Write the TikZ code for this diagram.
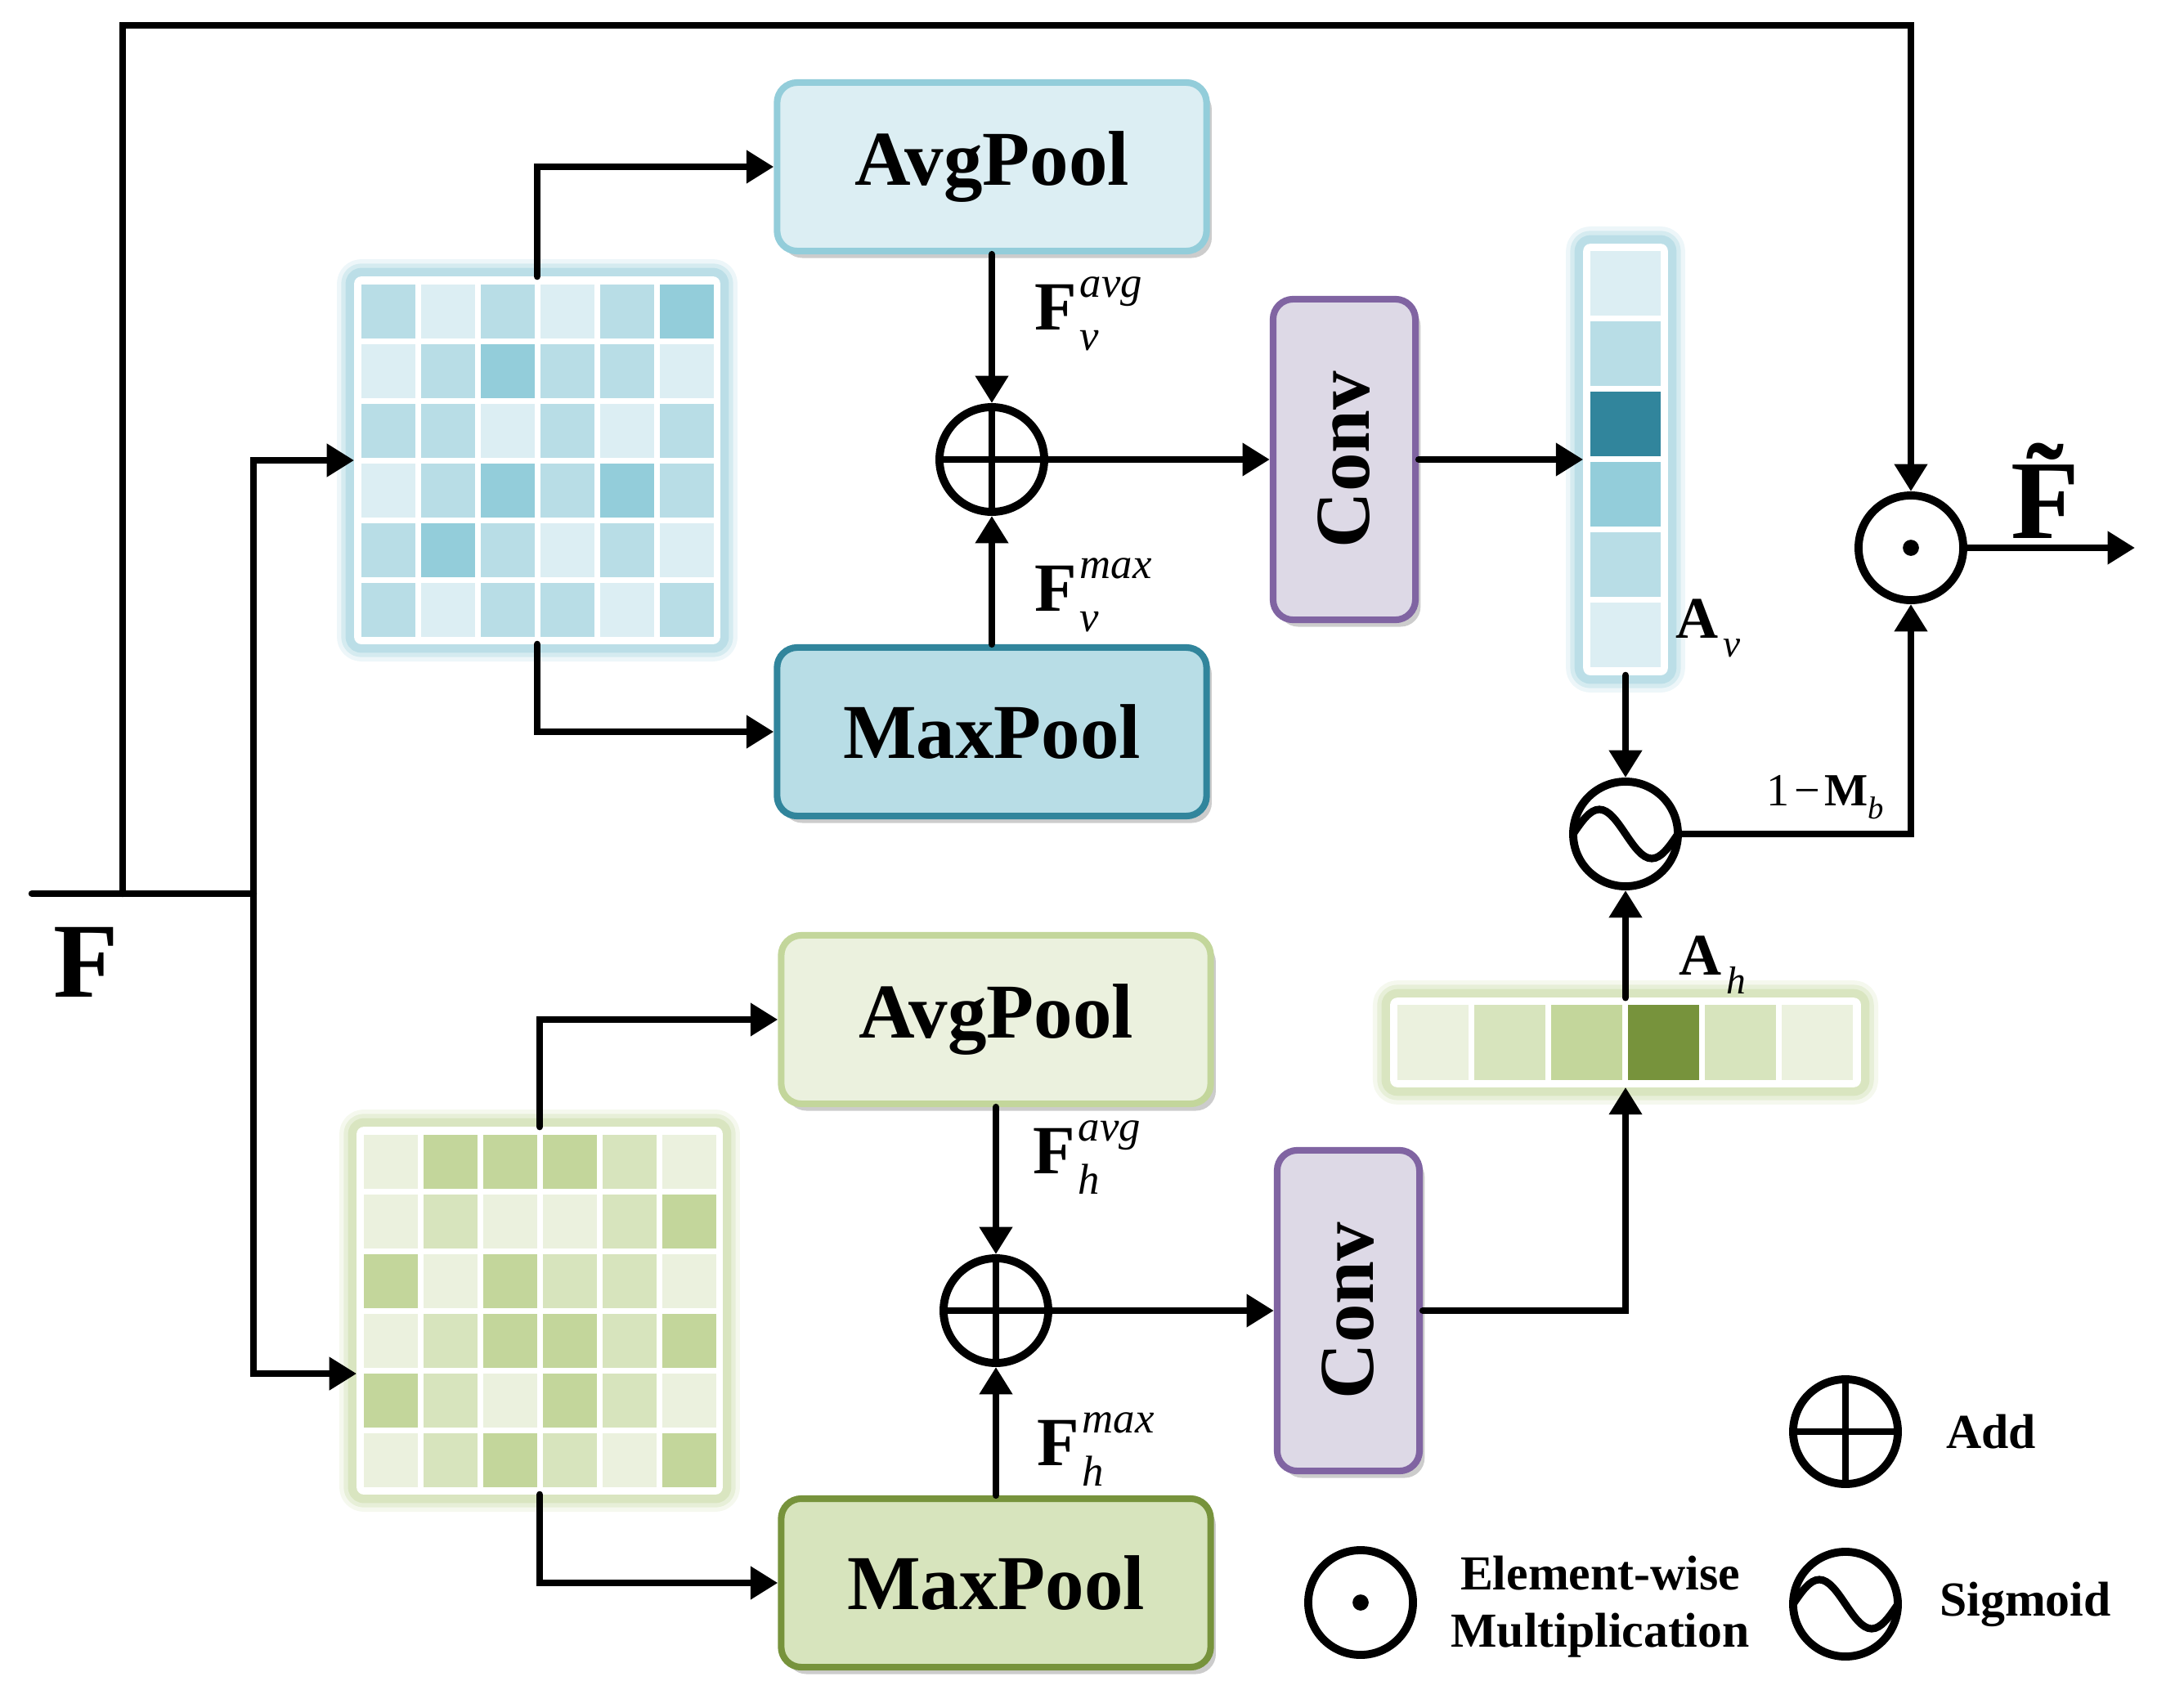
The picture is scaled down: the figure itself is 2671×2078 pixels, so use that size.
\documentclass[tikz,border=0pt]{standalone}
\usepackage{fontspec}
\setmainfont{Liberation Serif}
\usepackage{graphicx}
\usepackage{tikz}
\usetikzlibrary{arrows.meta,positioning,shadows,calc}
\definecolor{bL}{HTML}{DCEEF3}
\definecolor{bM}{HTML}{B8DDE6}
\definecolor{bD}{HTML}{93CDDA}
\definecolor{bT}{HTML}{31859C}
\definecolor{gL}{HTML}{EBF1DE}
\definecolor{gM}{HTML}{D7E4BD}
\definecolor{gD}{HTML}{C3D69B}
\definecolor{gT}{HTML}{77933C}
\definecolor{convfill}{HTML}{DDD9E6}
\definecolor{convline}{HTML}{8064A2}

\newcommand{\boxfont}{\fontsize{27}{32}\selectfont\bfseries}
\newcommand{\legfont}{\fontsize{17}{20}\selectfont\bfseries}
\newcommand{\fsupsub}[3]{{\fontsize{24}{28}\selectfont\textbf{#1}\kern.04em\rlap{\raisebox{.47em}{\fontsize{15}{15}\selectfont\itshape #2}}\raisebox{-.3em}{\fontsize{15}{15}\selectfont\itshape #3}}}
\newcommand{\attsub}[2]{{\fontsize{20.5}{24}\selectfont\textbf{#1}\kern.08em\raisebox{-.32em}{\fontsize{13.5}{14}\selectfont\itshape #2}}}

\tikzset{
  wire/.style={line width=2.4pt, line cap=round},
  flow/.style={wire, -{Triangle[length=9.5pt,width=11pt]}},
  poolbox/.style 2 args={draw=#2, fill=#1, line width=2.3pt, rounded corners=7pt,
    minimum width=5.25cm, minimum height=2.06cm, font=\boxfont,
    drop shadow={shadow xshift=1.8pt, shadow yshift=-2.4pt, opacity=.4, fill=black!50}},
  convbox/.style={draw=convline, fill=convfill, line width=2.3pt, rounded corners=7pt,
    minimum width=1.74cm, minimum height=3.92cm, font=\boxfont,
    drop shadow={shadow xshift=1.8pt, shadow yshift=-2.4pt, opacity=.4, fill=black!50}},
  glowframe/.style={draw=white, fill=white, line width=1pt, rounded corners=2pt, inner sep=0pt,
    preaction={draw=#1, line width=13pt, opacity=.25, line join=round},
    preaction={draw=#1, line width=10pt, opacity=.45, line join=round},
    preaction={draw=#1, line width=7pt, opacity=.9, line join=round}},
  fmap/.style={glowframe=#1, minimum width=4.44cm, minimum height=4.46cm},
  vbar/.style={glowframe=#1, minimum width=1cm, minimum height=5.24cm},
  hbar/.style={glowframe=#1, minimum width=5.72cm, minimum height=1.06cm},
  opcircle/.style={circle, draw, fill=white, line width=2.8pt, minimum size=1.28cm, inner sep=0pt},
  addop/.style={opcircle, path picture={
    \draw[black, line width=2.4pt] (path picture bounding box.north) -- (path picture bounding box.south)
      (path picture bounding box.west) -- (path picture bounding box.east);}},
  mulop/.style={opcircle, path picture={\fill[black] (path picture bounding box.center) circle (2.8pt);}},
  sigop/.style={opcircle, path picture={
    \draw[black, line width=2.6pt] ([xshift=-0.64cm]path picture bounding box.center)
      sin ++(0.32cm,0.3cm) cos ++(0.32cm,-0.3cm) sin ++(0.32cm,-0.3cm) cos ++(0.32cm,0.3cm);}},
  lbl/.style={anchor=base west, inner sep=0pt}
}

\begin{document}
\begin{tikzpicture}[x=0.01cm, y=-0.01cm]
\useasboundingbox (0,0) rectangle (2671,2078);

% input
\coordinate (fin) at (39,1093);
\coordinate (skip) at (150,1093);
\coordinate (fork) at (310,1093);
\coordinate (topturn) at (150,31);
\node (flbl) at (105,1177) {\fontsize{37}{40}\selectfont\textbf{F}};

% feature maps
\node[fmap=bM] (bgrid) at (657,563) {};
\node[fmap=gM] (ggrid) at (660,1603) {};
\foreach \row [count=\j from 0] in {{bM,bL,bM,bL,bM,bD},{bL,bM,bD,bM,bM,bL},{bM,bM,bL,bM,bL,bM},
    {bL,bM,bD,bM,bD,bM},{bM,bD,bM,bL,bM,bL},{bM,bL,bM,bM,bL,bM}}
  \foreach \c [count=\i from 0] in \row
    \fill[fill=\c] ($(bgrid.center)+(-215.5+73*\i,-215.5+73*\j)$) rectangle ++(66,66);
\foreach \row [count=\j from 0] in {{gL,gD,gD,gD,gM,gL},{gL,gM,gL,gL,gM,gD},{gD,gL,gD,gM,gM,gL},
    {gL,gM,gD,gD,gM,gD},{gD,gM,gL,gD,gM,gL},{gL,gM,gD,gM,gL,gD}}
  \foreach \c [count=\i from 0] in \row
    \fill[fill=\c] ($(ggrid.center)+(-215.5+73*\i,-215.5+73*\j)$) rectangle ++(66,66);

% pooling
\node[poolbox={bL}{bD}] (bavg) at (1213,204) {AvgPool};
\node[poolbox={bM}{bT}] (bmax) at (1213,895) {MaxPool};
\node[poolbox={gL}{gD}] (gavg) at (1218,1247) {AvgPool};
\node[poolbox={gM}{gT}] (gmax) at (1218,1936) {MaxPool};

\node[addop] (badd) at (1213,562) {};
\node[addop] (gadd) at (1218,1603) {};

\node[convbox] (bconv) at (1644,562) {\rotatebox{90}{Conv}};
\node[convbox] (gconv) at (1649,1603) {\rotatebox{90}{Conv}};

% attention vectors
\node[vbar=bM] (avbar) at (1988,562) {};
\node[hbar=gM] (ahbar) at (1988,1275) {};
\foreach \c [count=\j from 0] in {bL,bM,bT,bD,bM,bL}
  \fill[fill=\c] ($(avbar.center)+(-43,-255+86*\j)$) rectangle ++(86,79);
\foreach \c [count=\i from 0] in {gL,gM,gD,gT,gM,gL}
  \fill[fill=\c] ($(ahbar.center)+(-279+94*\i,-46)$) rectangle ++(87,92);

\node[sigop] (sig) at (1988,1020) {};
\node[mulop] (mul) at (2337,670) {};
\coordinate (fout) at (2611,670);
\node (outlbl) at (2524,600) {\fontsize{39}{42}\selectfont\textbf{\~{F}}};

% labels
\node[lbl] (favgv) at (1265,403) {\fsupsub{F}{avg}{v}};
\node[lbl] (fmaxv) at (1265,747) {\fsupsub{F}{max}{v}};
\node[lbl] (favgh) at (1263,1435) {\fsupsub{F}{avg}{h}};
\node[lbl] (fmaxh) at (1268,1792) {\fsupsub{F}{max}{h}};
\node[lbl] (avlbl) at (2049,780) {\attsub{A}{v}};
\node[lbl] (ahlbl) at (2053,1192) {\attsub{A}{h}};
\node[lbl] (mblbl) at (2160,985) {\fontsize{16}{18}\selectfont 1\kern.1em\char"2212\kern.1em\textbf{M}\raisebox{-.3em}{\fontsize{11}{12}\selectfont\itshape b}};

% connectors
\draw[wire] (fin) -- (fork);
\draw[flow] (skip) -- (topturn) -| (mul.north);
\draw[flow] (fork) |- (bgrid.west);
\draw[flow] (fork) |- ([yshift=-0.77cm]ggrid.west);
\draw[flow] (bgrid.north) |- (bavg.west);
\draw[flow] (bgrid.south) |- (bmax.west);
\draw[flow] (ggrid.north) |- (gavg.west);
\draw[flow] (ggrid.south) |- (gmax.west);
\draw[flow] (bavg) -- (badd);
\draw[flow] (bmax) -- (badd);
\draw[flow] (gavg) -- (gadd);
\draw[flow] (gmax) -- (gadd);
\draw[flow] (badd) -- (bconv);
\draw[flow] (gadd) -- (gconv);
\draw[flow] (bconv) -- (avbar);
\draw[flow] (gconv.east) -| (ahbar.south);
\draw[flow] (avbar) -- (sig);
\draw[flow] (ahbar) -- (sig);
\draw[flow] (sig.east) -| (mul.south);
\draw[flow] (mul) -- (fout);

% legend
\node[addop] (lgadd) at (2257,1751) {};
\node[anchor=west, font=\legfont] (lgaddtxt) at (2368,1751) {Add};
\node[mulop] (lgmul) at (1664,1960) {};
\node[font=\legfont, align=center] (lgmultxt) at (1957,1965) {Element-wise\\Multiplication};
\node[sigop] (lgsig) at (2257,1962) {};
\node[anchor=west, font=\legfont] (lgsigtxt) at (2360,1962) {Sigmoid};
\end{tikzpicture}
\end{document}
